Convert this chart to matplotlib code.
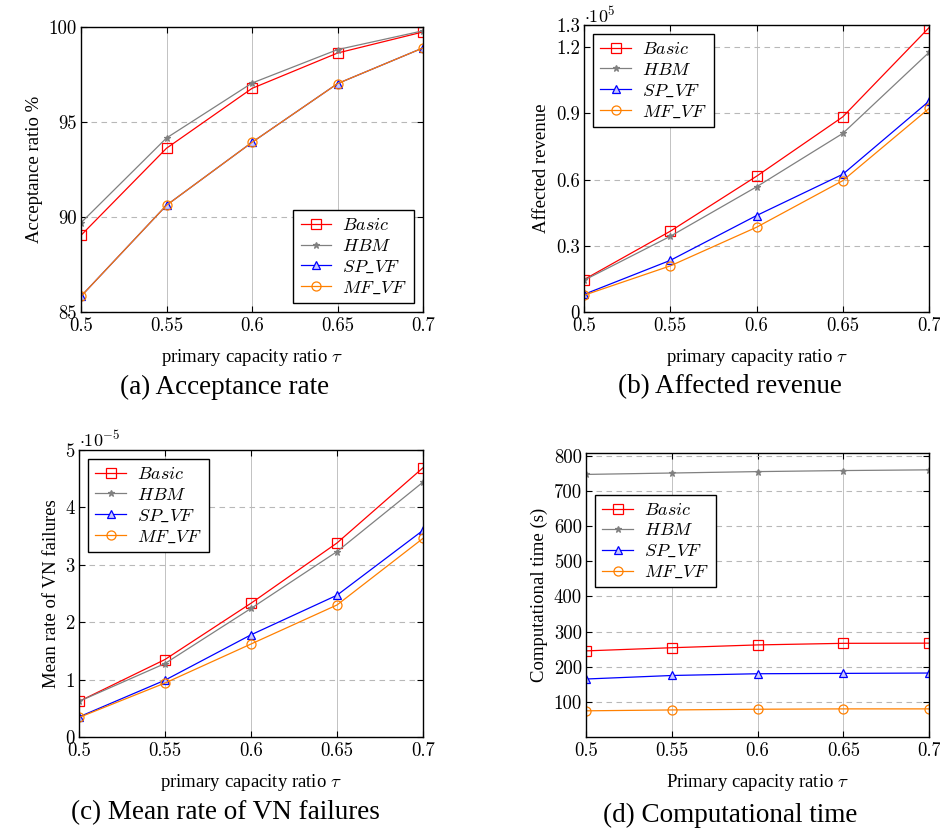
import matplotlib
matplotlib.use("Agg")
import matplotlib.pyplot as plt

plt.rcParams['mathtext.fontset'] = 'cm'
plt.rcParams['font.family'] = ['cmr10', 'DejaVu Serif']
plt.rcParams['axes.unicode_minus'] = False

# x values: primary capacity ratio
tau = [0.5, 0.55, 0.6, 0.65, 0.7]
tau_labels = ["0.5", "0.55", "0.6", "0.65", "0.7"]

# (a) acceptance ratio %
acc_basic = [89.04, 93.62, 96.77, 98.63, 99.74]
acc_hbm = [89.7, 94.16, 97.05, 98.81, 99.8]
acc_sp = [85.83, 90.62, 93.93, 97.02, 98.9]
acc_mf = [85.83, 90.62, 93.93, 97.02, 98.9]

# (b) affected revenue
rev_basic = [14700, 36600, 61500, 88400, 128800]
rev_hbm = [14400, 34300, 56700, 80900, 117600]
rev_sp = [8000, 23400, 43700, 62400, 95500]
rev_mf = [7600, 20900, 38400, 59500, 92200]

# (c) mean rate of VN failures
fail_basic = [0.62e-5, 1.35e-5, 2.33e-5, 3.38e-5, 4.69e-5]
fail_hbm = [0.62e-5, 1.28e-5, 2.24e-5, 3.23e-5, 4.44e-5]
fail_sp = [0.35e-5, 0.99e-5, 1.78e-5, 2.47e-5, 3.60e-5]
fail_mf = [0.34e-5, 0.94e-5, 1.62e-5, 2.30e-5, 3.46e-5]

# (d) computational time (s)
time_basic = [245, 254, 262, 266.5, 267]
time_hbm = [747, 751, 755, 758, 760]
time_sp = [165, 175, 180, 181, 182]
time_mf = [74.5, 77, 79, 80, 80]

names = ["$Basic$", "$HBM$", "$SP\\_VF$", "$MF\\_VF$"]
styles = [
    dict(color="#ff0000", marker="s", ms=6.5, mfc="none"),
    dict(color="#808080", marker="*", ms=5, mfc="#808080"),
    dict(color="#0000ff", marker="^", ms=5.5, mfc="#c8c8ff"),
    dict(color="#ff8000", marker="o", ms=6.5, mfc="none"),
]

label_font = dict(family="Liberation Serif", size=13.5)
cap_font = dict(family="Liberation Serif", size=19.5)

fig = plt.figure(figsize=(9.4, 8.31), dpi=100)


def panel(rect, series, ylim, yticks, ytlabels, ylabel, xlabel, legend_loc, caption, cap_xy):
    ax = fig.add_axes(rect)
    for vals, name, st in zip(series, names, styles):
        ax.plot(tau, vals, label=name, lw=0.9, mew=0.9, **st)
    ax.set_xlim(0.5, 0.7)
    ax.set_ylim(*ylim)
    ax.set_xticks(tau)
    ax.set_xticklabels(tau_labels)
    ax.set_yticks(yticks)
    ax.set_yticklabels(ytlabels)
    ax.tick_params(direction="in", top=True, right=True, labelsize=13.5, length=4, width=0.8)
    ax.tick_params(axis="y", pad=3)
    ax.xaxis.grid(True, color="#b8b8b8", lw=0.6)
    ax.yaxis.grid(True, color="#b8b8b8", lw=0.8, ls=(0, (5, 4)))
    ax.set_axisbelow(True)
    for s in ax.spines.values():
        s.set_linewidth(1.0)
    ax.set_ylabel(ylabel, **label_font)
    ax.set_xlabel(xlabel, labelpad=9, **label_font)
    leg = ax.legend(loc=legend_loc, fontsize=13, fancybox=False, edgecolor="black",
                    framealpha=1, handlelength=1.7, handletextpad=0.6, borderpad=0.4,
                    labelspacing=0.25)
    leg.get_frame().set_linewidth(1.0)
    fig.text(cap_xy[0], cap_xy[1], caption, ha="center", va="center", **cap_font)
    return ax


ax_a = panel([0.0862, 0.6245, 0.3638, 0.343],
             [acc_basic, acc_hbm, acc_sp, acc_mf],
             (85, 100), [85, 90, 95, 100], ["85", "90", "95", "100"],
             "Acceptance ratio %", "primary capacity ratio $\\tau$", "lower right",
             "(a) Acceptance rate", (225 / 940, 1 - 387 / 831))

ax_b = panel([0.6213, 0.6245, 0.367, 0.3454],
             [rev_basic, rev_hbm, rev_sp, rev_mf],
             (0, 130000), [0, 30000, 60000, 90000, 120000, 130000],
             ["0", "0.3", "0.6", "0.9", "1.2", "1.3"],
             "Affected revenue", "primary capacity ratio $\\tau$", "upper left",
             "(b) Affected revenue", (730 / 940, 1 - 387 / 831))
fig.text(584 / 940, 1 - 15 / 831, "$\\cdot10^{5}$", fontsize=13, ha="left", va="center")

ax_c = panel([0.084, 0.1131, 0.366, 0.3454],
             [fail_basic, fail_hbm, fail_sp, fail_mf],
             (0, 5e-5), [0, 1e-5, 2e-5, 3e-5, 4e-5, 5e-5],
             ["0", "1", "2", "3", "4", "5"],
             "Mean rate of VN failures", "primary capacity ratio $\\tau$", "upper left",
             "(c) Mean rate of VN failures", (225 / 940, 1 - 813 / 831))
fig.text(79 / 940, 1 - 439 / 831, "$\\cdot10^{-5}$", fontsize=13, ha="left", va="center")

ax_d = panel([0.6234, 0.1131, 0.365, 0.3418],
             [time_basic, time_hbm, time_sp, time_mf],
             (0, 808), [100, 200, 300, 400, 500, 600, 700, 800],
             ["100", "200", "300", "400", "500", "600", "700", "800"],
             "Computational time (s)", "Primary capacity ratio $\\tau$", "center left",
             "(d) Computational time", (730 / 940, 1 - 815 / 831))
ax_d.legend_.set_bbox_to_anchor((0.0, 0.69), transform=ax_d.transAxes)

fig.savefig("out.png", dpi=100)
